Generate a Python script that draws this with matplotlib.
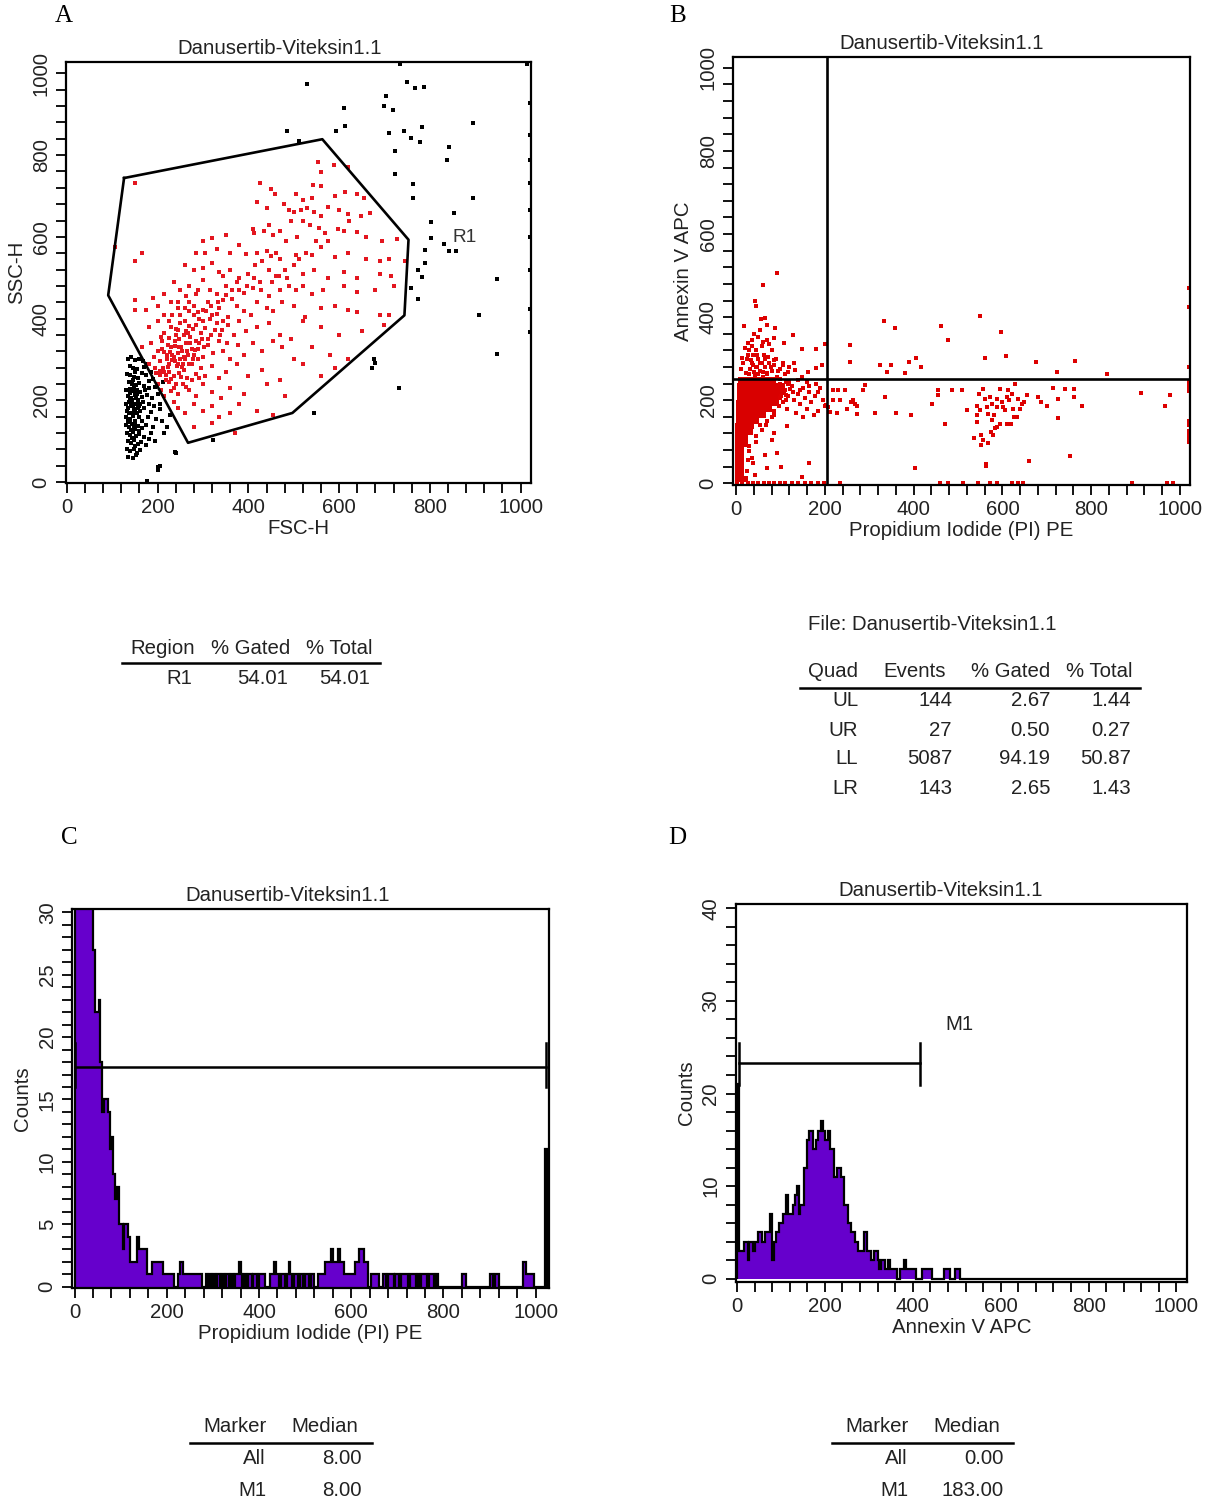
import numpy as np
import matplotlib
matplotlib.use('Agg')
import matplotlib.pyplot as plt
from matplotlib.lines import Line2D

plt.rcParams['font.family'] = ['Liberation Sans', 'DejaVu Sans']
plt.rcParams['text.color'] = '#222222'
plt.rcParams['axes.labelcolor'] = '#222222'
plt.rcParams['xtick.color'] = 'black'
plt.rcParams['ytick.color'] = 'black'
plt.rcParams['xtick.labelcolor'] = '#222222'
plt.rcParams['ytick.labelcolor'] = '#222222'

TITLE = 'Danusertib-Viteksin1.1'

# ---- panel A: FSC-H vs SSC-H, gate R1 ----
gate_r1 = [(126, 744), (563, 839), (753, 593), (744, 408), (497, 169), (267, 96), (91, 457)]

a_red = [
    (554, 784), (589, 776), (559, 759), (620, 770),
    (425, 732), (543, 727), (560, 725), (450, 716), (458, 706), (505, 706), (520, 690), (612, 710),
    (640, 705), (655, 695), (590, 700), (540, 695),
    (478, 680), (490, 665), (500, 660), (515, 665), (530, 670), (545, 660), (560, 650), (575, 672),
    (600, 665), (620, 655), (648, 650), (668, 658), (420, 685), (440, 670),
    (410, 620), (412, 610), (435, 615), (445, 630), (455, 605), (470, 615), (495, 640), (520, 640),
    (535, 628), (555, 622), (570, 610), (610, 615), (640, 612), (660, 600), (695, 590), (728, 595),
    (350, 605), (320, 598), (300, 590), (380, 580),
    (285, 560), (305, 560), (330, 570), (360, 560), (395, 558), (420, 560), (440, 565), (450, 552),
    (470, 545), (505, 555), (540, 555), (560, 575), (590, 550), (620, 560), (660, 545), (690, 540),
    (710, 545), (745, 540), (105, 575), (150, 540), (165, 560),
    (260, 530), (280, 520), (300, 525), (320, 535), (335, 515), (345, 505), (360, 520), (380, 500),
    (400, 510), (415, 530), (430, 540), (445, 520), (460, 505), (480, 520), (500, 530), (520, 510),
    (545, 520), (575, 500), (610, 515), (640, 500), (690, 510), (715, 505),
    (235, 490), (250, 470), (270, 480), (290, 470), (300, 495), (315, 470), (330, 460), (350, 480),
    (365, 470), (375, 490), (390, 462), (410, 475), (425, 490), (445, 455), (470, 470), (490, 480),
    (505, 470), (520, 480), (540, 460), (565, 470), (610, 480), (640, 465), (680, 470), (720, 480),
    (150, 445), (190, 450), (215, 460),
    (150, 420), (175, 420), (200, 430), (215, 410), (230, 440), (245, 425), (260, 425), (270, 418),
    (280, 430), (290, 415), (300, 420), (310, 440), (320, 410), (335, 425), (345, 445), (355, 405),
    (375, 430), (390, 418), (405, 410), (420, 440), (440, 425), (455, 418), (475, 440), (500, 430),
    (525, 405), (560, 425), (590, 430), (620, 420), (640, 415), (690, 410), (710, 410),
    (180, 380), (200, 395), (215, 365), (230, 380), (240, 360), (250, 390), (262, 370), (272, 355),
    (285, 385), (295, 365), (305, 378), (318, 360), (330, 390), (342, 372), (355, 385), (368, 360),
    (380, 395), (395, 370), (420, 380), (445, 390), (470, 360), (495, 350), (520, 395), (560, 380),
    (600, 360), (650, 370), (700, 385),
    (165, 330), (185, 340), (200, 320), (210, 345), (220, 310), (230, 330), (238, 345), (245, 315),
    (252, 330), (258, 305), (265, 320), (272, 340), (280, 310), (290, 325), (300, 305), (310, 335),
    (322, 315), (335, 345), (345, 320), (360, 300), (378, 335), (390, 310), (410, 340), (430, 320),
    (455, 345), (475, 330), (500, 300), (540, 330), (580, 310), (620, 300),
    (180, 290), (195, 280), (205, 295), (215, 270), (225, 290), (235, 260), (242, 285), (250, 300),
    (258, 275), (265, 255), (275, 290), (285, 265), (295, 280), (305, 260), (320, 285), (335, 255),
    (350, 270), (375, 290), (400, 260), (430, 275), (470, 250), (520, 290), (560, 260), (590, 280),
    (200, 240), (208, 225), (215, 210), (225, 245), (235, 230), (245, 215), (255, 240), (270, 225),
    (285, 210), (300, 240), (320, 220), (340, 205), (360, 230), (390, 215), (440, 240), (480, 210),
    (235, 195), (245, 180), (260, 170), (280, 190), (300, 175), (320, 185), (335, 160), (360, 170),
    (380, 190), (420, 175), (455, 165), (280, 135), (320, 145), (370, 120),
    (220, 300), (228, 318), (236, 305), (244, 290), (212, 280), (226, 270), (238, 332), (246, 350),
    (254, 320), (262, 340), (248, 268), (232, 298), (222, 335), (256, 290), (268, 310), (276, 325),
    (284, 345), (290, 300), (298, 350), (240, 375), (260, 395), (280, 410), (300, 395), (315, 400),
    (330, 412), (345, 395), (270, 440), (285, 460), (250, 410), (225, 395), (208, 355), (192, 305),
    (218, 250), (230, 222), (205, 262), (196, 268), (150, 732),
    (214, 318), (222, 282), (231, 312), (239, 296), (247, 330), (253, 282), (261, 300), (269, 290),
    (277, 300), (283, 322), (291, 340), (302, 330), (312, 350), (326, 372), (338, 360), (352, 340),
    (266, 365), (278, 375), (292, 400), (306, 418), (318, 430), (334, 440), (350, 458), (364, 448),
    (380, 470), (398, 480), (412, 500), (428, 470), (452, 490), (468, 505), (486, 500), (512, 545),
    (528, 560), (548, 590), (575, 590), (598, 620), (622, 640), (508, 600), (482, 590), (462, 560),
    (206, 272), (218, 262), (229, 252), (240, 240), (252, 256), (262, 232), (276, 250), (292, 255),
    (210, 325), (226, 352), (244, 372), (258, 360), (270, 382), (232, 410), (244, 440), (262, 455),
]

a_black = [
    (135, 300), (142, 305), (150, 298), (160, 302), (168, 296), (138, 285), (146, 280), (155, 276),
    (170, 282), (178, 290), (132, 265), (140, 262), (148, 258), (157, 255), (165, 268), (175, 262),
    (185, 270), (136, 245), (144, 240), (152, 238), (160, 242), (170, 236), (182, 248), (190, 252),
    (130, 225), (138, 228), (146, 222), (154, 226), (162, 220), (172, 224), (180, 230), (195, 232),
    (134, 210), (141, 205), (149, 212), (157, 200), (165, 208), (176, 214), (188, 205), (200, 215),
    (130, 190), (137, 195), (145, 188), (152, 192), (160, 185), (168, 196), (180, 190), (192, 186),
    (133, 175), (140, 170), (147, 178), (154, 168), (162, 174), (171, 180), (185, 172), (205, 178),
    (131, 160), (138, 155), (145, 162), (150, 150), (158, 158), (166, 150), (178, 160), (196, 155),
    (130, 140), (136, 135), (143, 142), (150, 130), (157, 138), (165, 132), (175, 140), (190, 135),
    (132, 120), (139, 115), (146, 122), (153, 112), (160, 118), (170, 110), (185, 120), (134, 100),
    (141, 95), (148, 102), (156, 92), (163, 98), (175, 90), (133, 80), (140, 75), (148, 82),
    (155, 70), (162, 78), (135, 62), (145, 58), (152, 65), (200, 30), (205, 40), (240, 70),
    (180, 105), (210, 150), (215, 120), (195, 100), (220, 135), (228, 165), (205, 190), (212, 245),
    (145, 250), (150, 270), (138, 218), (142, 185), (150, 145), (143, 108), (144, 200), (151, 175),
    (146, 168), (139, 205), (155, 215), (148, 232), (161, 190), (135, 150), (158, 125), (149, 88),
    (141, 128), (137, 168), (152, 205), (144, 192), (134, 182), (156, 182), (140, 148), (147, 138),
    # events outside the gate
    (530, 975), (610, 915), (485, 860), (594, 860), (614, 871), (704, 945), (700, 920), (718, 910),
    (749, 978), (768, 964), (788, 967), (709, 855), (744, 860), (758, 843), (782, 869), (778, 831),
    (724, 810), (724, 753), (842, 820), (837, 788), (762, 730), (762, 694), (895, 878), (895, 694),
    (803, 637), (803, 598), (789, 569), (854, 659), (832, 582), (842, 566), (858, 566), (789, 536),
    (774, 520), (782, 502), (758, 475), (774, 449), (949, 498), (908, 408), (948, 314), (731, 230),
    (676, 302), (680, 291), (672, 280), (544, 170), (321, 102), (239, 73), (200, 37), (177, 2),
    (511, 834), (735, 1023), (1014, 1023),
    (1021, 927), (1021, 849), (1021, 788), (1021, 731), (1021, 665), (1021, 600), (1021, 518),
    (1021, 424), (1021, 367),
]

# ---- panel B: Propidium Iodide vs Annexin V, quadrant at (205, 252) ----
quad_x, quad_y = 205, 252

b_core = [
    (12, 248), (24, 248), (36, 248), (48, 248), (60, 248), (72, 248), (84, 248),
    (8, 235), (20, 235), (32, 235), (44, 235), (56, 235), (68, 235), (80, 235), (92, 235), (104, 235),
    (8, 221), (20, 221), (32, 221), (44, 221), (56, 221), (68, 221), (80, 221), (92, 221), (106, 221),
    (8, 207), (19, 207), (30, 207), (42, 207), (54, 207), (66, 207), (78, 207), (90, 207),
    (7, 193), (18, 193), (29, 193), (40, 193), (52, 193), (64, 193), (76, 193), (90, 193),
    (7, 179), (17, 179), (28, 179), (39, 179), (50, 179), (62, 179), (74, 179),
    (6, 165), (16, 165), (26, 165), (37, 165), (48, 165), (60, 165),
    (6, 151), (15, 151), (25, 151), (35, 151), (46, 151),
    (5, 137), (14, 137), (24, 137), (34, 137),
    (5, 123), (13, 123), (22, 123), (32, 123),
    (4, 109), (12, 109), (21, 109), (4, 95), (12, 95), (20, 95),
    (4, 81), (12, 81), (4, 67), (12, 67), (4, 53), (12, 53), (4, 39), (12, 39),
    (4, 25), (12, 25), (4, 11), (12, 11), (20, 11),
]

b_events = [
    # upper left
    (92, 505), (60, 478), (42, 438), (45, 426), (18, 379), (56, 395), (65, 398), (87, 373), (129, 357),
    (26, 337), (50, 353), (70, 345), (109, 337), (149, 323), (181, 323), (200, 336), (14, 301),
    (34, 297), (58, 289), (85, 297), (105, 285), (133, 273), (161, 269), (181, 277), (193, 285),
    (22, 265), (42, 261), (70, 265), (93, 257), (117, 269), (149, 257), (30, 321), (39, 309),
    (15, 289), (47, 280), (31, 275), (60, 257), (55, 270), (38, 285), (25, 300), (65, 300),
    (78, 280), (48, 310), (20, 325), (36, 345), (58, 330), (80, 320), (95, 270), (12, 275),
    (30, 262), (40, 268), (50, 262), (60, 268), (70, 262), (80, 270), (45, 280), (55, 290),
    (65, 280), (75, 290), (85, 285), (100, 275), (110, 262), (35, 290), (28, 310), (50, 300),
    (62, 310), (72, 305), (90, 300), (105, 290), (120, 280), (130, 290), (45, 320), (60, 340),
    (35, 330), (75, 335), (85, 350), (40, 360), (55, 370), (70, 380),
    # upper right
    (333, 390), (357, 373), (257, 333), (257, 291), (325, 285), (339, 269), (349, 285), (381, 265),
    (389, 291), (405, 301), (417, 280), (461, 379), (477, 345), (550, 402), (560, 301), (596, 365),
    (608, 307), (676, 291), (723, 269), (764, 295), (836, 263), (1020, 470), (1020, 424), (1020, 280),
    # lower left, outside the core
    (100, 240), (110, 225), (118, 210), (125, 235), (130, 200), (140, 215), (145, 190), (150, 230),
    (155, 205), (160, 180), (165, 220), (170, 195), (178, 210), (185, 175), (190, 230), (195, 200),
    (200, 185), (105, 195), (115, 180), (135, 170), (150, 160), (175, 165), (120, 245), (140, 248),
    (160, 245), (180, 240), (102, 210), (112, 200), (128, 220), (145, 225), (165, 235), (185, 220),
    (85, 120), (81, 104), (65, 68), (69, 36), (101, 40), (165, 48), (149, 16), (38, 48), (42, 20),
    (114, 137), (93, 72), (30, 90), (45, 115), (55, 140), (35, 60), (70, 150), (85, 165),
    (98, 250), (112, 244), (104, 228), (116, 238), (98, 205), (96, 185), (86, 175), (80, 160),
    (68, 140), (58, 128), (44, 100), (30, 78), (26, 55), (24, 30), (112, 212), (122, 226),
    (2, 2), (14, 2), (26, 2), (38, 2), (50, 2), (62, 2), (74, 2), (86, 2), (98, 2), (110, 2),
    (125, 2), (140, 2), (155, 2), (170, 2), (185, 2), (198, 2),
    # lower right
    (219, 224), (230, 224), (245, 224), (287, 224), (290, 236), (336, 208), (219, 200), (234, 200),
    (264, 200), (268, 192), (249, 180), (227, 170), (272, 168), (313, 170), (360, 170), (393, 164),
    (456, 224), (456, 212), (486, 224), (508, 224), (441, 192), (471, 144), (521, 176), (542, 186),
    (542, 148), (548, 216), (557, 228), (561, 202), (565, 184), (568, 168), (572, 208), (576, 192),
    (580, 164), (587, 184), (587, 204), (595, 228), (598, 196), (601, 184), (606, 176), (610, 208),
    (613, 224), (614, 200), (621, 216), (624, 180), (625, 160), (628, 240), (634, 202), (640, 180),
    (643, 190), (655, 212), (587, 136), (583, 132), (595, 144), (610, 142), (619, 142), (537, 110),
    (552, 116), (557, 104), (552, 92), (568, 98), (578, 116), (563, 47), (563, 42), (403, 38),
    (661, 54), (681, 208), (686, 196), (701, 186), (715, 230), (726, 202), (726, 158), (742, 228),
    (762, 228), (762, 208), (779, 186), (752, 65), (912, 218), (966, 186), (978, 212), (208, 184),
    (212, 172), (203, 188), (272, 185), (260, 196), (632, 160), (648, 196), (577, 152), (575, 124),
    (549, 176), (542, 164), (1020, 245), (1020, 238), (1020, 230), (1020, 222), (1020, 150),
    (1020, 140), (1020, 125), (1020, 118), (1020, 110), (1020, 100),
    (234, 2), (460, 2), (478, 2), (512, 2), (546, 2), (572, 2), (587, 2), (621, 2), (636, 2),
    (647, 2), (891, 2), (970, 2), (985, 2),
]

# ---- panel C: PI histogram (256 channels of width 4) ----
c_counts = [
    46, 52, 50, 47, 44, 41, 38, 36, 34, 32, 27, 22, 22, 23, 18, 14,
    15, 15, 14, 11, 12, 9, 7, 8, 5, 5, 3, 5, 5, 4, 2, 2,
    2, 2, 4, 3, 3, 3, 3, 1, 1, 1, 2, 2, 2, 2, 2, 2,
    1, 1, 1, 1, 1, 1, 0, 0, 1, 2, 2, 1, 1, 1, 1, 1,
    1, 1, 1, 1, 1, 0, 0, 1, 0, 1, 0, 1, 0, 1, 1, 0,
    1, 0, 1, 1, 0, 1, 0, 1, 1, 2, 1, 0, 1, 0, 1, 1,
    0, 1, 1, 0, 1, 1, 1, 0, 0, 0, 1, 1, 2, 1, 1, 0,
    1, 1, 0, 1, 2, 1, 0, 1, 1, 0, 1, 1, 0, 1, 1, 0,
    1, 1, 0, 0, 1, 1, 1, 1, 2, 2, 2, 3, 2, 2, 2, 3,
    2, 2, 1, 1, 1, 1, 1, 1, 2, 2, 3, 3, 3, 2, 2, 0,
    0, 1, 1, 1, 1, 0, 0, 1, 1, 0, 1, 1, 1, 0, 1, 1,
    0, 1, 1, 1, 1, 0, 1, 1, 1, 0, 1, 0, 1, 1, 1, 0,
    1, 1, 1, 0, 1, 0, 0, 0, 0, 0, 0, 0, 0, 0, 0, 0,
    0, 0, 1, 1, 0, 0, 0, 0, 0, 0, 0, 0, 0, 0, 0, 0,
    0, 1, 1, 0, 1, 1, 0, 0, 0, 0, 0, 0, 0, 0, 0, 0,
    0, 0, 0, 2, 2, 1, 1, 1, 1, 0, 0, 0, 0, 0, 0, 11,
]
c_marker = (0, 1023, 17.6)

# ---- panel D: Annexin V histogram ----
d_counts = [
    21, 3, 3, 3, 4, 4, 2, 4, 4, 3, 4, 4, 5, 5, 4, 4,
    5, 5, 5, 7, 2, 4, 5, 5, 6, 6, 7, 7, 9, 7, 7, 7,
    8, 9, 10, 7, 8, 8, 12, 12, 15, 16, 16, 14, 14, 15, 16, 16,
    17, 16, 15, 15, 16, 14, 14, 11, 11, 12, 12, 11, 11, 8, 8, 6,
    6, 5, 5, 4, 4, 3, 3, 3, 5, 5, 3, 3, 2, 2, 3, 3,
    2, 1, 2, 2, 1, 1, 2, 1, 1, 1, 1, 0, 0, 1, 1, 2,
    1, 1, 1, 1, 1, 1, 0, 0, 0, 1, 1, 1, 1, 1, 1, 0,
    0, 0, 0, 0, 0, 0, 1, 1, 1, 0, 0, 0, 1, 1, 1, 0,
] + [0] * 128
d_marker = (5, 416, 23.3)

# ---- statistics tables ----
region_header = ['Region', '% Gated', '% Total']
region_rows = [['R1', '54.01', '54.01']]
quad_header = ['Quad', 'Events', '% Gated', '% Total']
quad_rows = [['UL', '144', '2.67', '1.44'],
             ['UR', '27', '0.50', '0.27'],
             ['LL', '5087', '94.19', '50.87'],
             ['LR', '143', '2.65', '1.43']]
marker_header = ['Marker', 'Median']
c_marker_rows = [['All', '8.00'], ['M1', '8.00']]
d_marker_rows = [['All', '0.00'], ['M1', '183.00']]

W, H = 1215, 1506
FS = 14.7
PURPLE = '#6600cc'

fig = plt.figure(figsize=(W / 100, H / 100), dpi=100)
fig.patch.set_facecolor('white')


def add_ax(l, t, r, b):
    return fig.add_axes([l / W, 1 - b / H, (r - l) / W, (b - t) / H])


def ftext(x, y, s, **kw):
    kw.setdefault('fontsize', FS)
    kw.setdefault('va', 'center')
    fig.text(x / W, 1 - y / H, s, **kw)


def fline(x0, x1, y, lw=1.8):
    fig.add_artist(Line2D([x0 / W, x1 / W], [1 - y / H, 1 - y / H],
                          transform=fig.transFigure, color='black', lw=lw))


def style(ax, xlim, ylim, xmaj, xmin, ymaj, ymin, title_x):
    ax.set_xlim(xlim)
    ax.set_ylim(ylim)
    ax.set_xticks(xmaj)
    ax.set_xticks(xmin, minor=True)
    ax.set_yticks(ymaj)
    ax.set_yticks(ymin, minor=True)
    ax.tick_params(which='both', direction='out', length=7, width=1.3, labelsize=FS)
    ax.tick_params(axis='x', pad=4)
    ax.tick_params(axis='y', pad=4, labelrotation=90)
    plt.setp(ax.get_yticklabels(), va='center')
    for sp in ax.spines.values():
        sp.set_linewidth(1.6)
    ax.set_title(TITLE, fontsize=FS, pad=6, x=title_x)


scale_maj = np.arange(0, 1001, 200)
scale_min = np.arange(0, 1001, 40)

# A
axA = add_ax(66, 62, 531, 483)
ra = np.array(a_red).T
ka = np.array(a_black).T
axA.scatter(ka[0], ka[1], s=5, marker='s', color='black', linewidths=0)
axA.scatter(ra[0], ra[1], s=5, marker='s', color='#e3161f', linewidths=0)
gx, gy = zip(*(gate_r1 + gate_r1[:1]))
axA.plot(gx, gy, color='black', lw=1.9)
axA.text(850, 599, 'R1', fontsize=FS - 1, color='#333333', va='center', ha='left')
style(axA, (-2, 1023), (-2.4, 1028), scale_maj, scale_min, scale_maj, scale_min, 0.46)
axA.set_xlabel('FSC-H', fontsize=FS, labelpad=1)
axA.set_ylabel('SSC-H', fontsize=FS, labelpad=4)

# B
axB = add_ax(733, 57, 1190, 485)
bc = np.array(b_core).T
be = np.array(b_events).T
axB.scatter(bc[0], bc[1], s=17, marker='s', color='#d90000', linewidths=0)
axB.scatter(be[0], be[1], s=6, marker='s', color='#dd0000', linewidths=0)
axB.axvline(quad_x, color='black', lw=1.9)
axB.axhline(quad_y, color='black', lw=1.9)
style(axB, (-6.8, 1022.5), (-4, 1026), scale_maj, scale_min, scale_maj, scale_min, 0.457)
axB.set_xlabel('Propidium Iodide (PI) PE', fontsize=FS, labelpad=1)
axB.set_ylabel('Annexin V APC', fontsize=FS, labelpad=4)

# C
edges = np.arange(0, 1025, 4)
axC = add_ax(72, 909, 549, 1288)
axC.stairs(c_counts, edges, fill=True, color=PURPLE, lw=0)
axC.stairs(c_counts, edges, color='black', lw=1.6)
x0, x1, my = c_marker
axC.plot([x0, x1], [my, my], color='black', lw=1.8)
axC.plot([x0, x0], [16, 19.5], color='black', lw=1.8)
axC.plot([x1, x1], [16, 19.5], color='black', lw=1.8)
style(axC, (-5.6, 1029), (-0.1, 30.26), scale_maj, scale_min,
      np.arange(0, 31, 5), np.arange(0, 31, 1), 0.452)
axC.set_xlabel('Propidium Iodide (PI) PE', fontsize=FS, labelpad=1)
axC.set_ylabel('Counts', fontsize=FS, labelpad=4)

# D
axD = add_ax(735.6, 904, 1187, 1282)
axD.stairs(d_counts, edges, fill=True, color=PURPLE, lw=0)
axD.stairs(d_counts, edges, color='black', lw=1.6)
x0, x1, my = d_marker
axD.plot([x0, x1], [my, my], color='black', lw=1.8)
axD.plot([x0, x0], [20.9, 25.5], color='black', lw=1.8)
axD.plot([x1, x1], [20.9, 25.5], color='black', lw=1.8)
axD.text(474, 27.5, 'M1', fontsize=FS, ha='left', va='center')
style(axD, (-3.2, 1024), (-0.36, 40.47), scale_maj, scale_min,
      np.arange(0, 41, 10), np.arange(0, 41, 2), 0.455)
axD.set_xlabel('Annexin V APC', fontsize=FS, labelpad=1)
axD.set_ylabel('Counts', fontsize=FS, labelpad=4)

# panel letters
for lx, ly, s in [(55, 16, 'A'), (669, 16, 'B'), (61, 838, 'C'), (668, 838, 'D')]:
    ftext(lx, ly, s, fontsize=18, family='Liberation Serif', color='black', ha='left')

# table under A
for s, xr in zip(region_header, [195, 290, 372]):
    ftext(xr, 648, s, ha='right')
fline(122, 380, 663)
for s, xr in zip(region_rows[0], [192, 288, 370]):
    ftext(xr, 678, s, ha='right')

# table under B
ftext(808, 624, 'File: ' + TITLE, ha='left')
for s, xr in zip(quad_header, [858, 946, 1050, 1133]):
    ftext(xr, 671, s, ha='right')
fline(800, 1140, 688)
for row, yy in zip(quad_rows, [701, 730, 759, 789]):
    for s, xr in zip(row, [858, 952, 1050, 1131]):
        ftext(xr, yy, s, ha='right')

# tables under C and D
for rows, cols, (l0, l1) in [(c_marker_rows, [266, 362], (190, 372)),
                             (d_marker_rows, [908, 1004], (832, 1013))]:
    for s, xr in zip(marker_header, [cols[0] + 1, cols[1] - 4]):
        ftext(xr, 1426, s, ha='right')
    fline(l0, l1, 1443)
    for row, yy in zip(rows, [1459, 1490]):
        for s, xr in zip(row, cols):
            ftext(xr, yy, s, ha='right')

fig.savefig('out.png', dpi=100, facecolor='white')
